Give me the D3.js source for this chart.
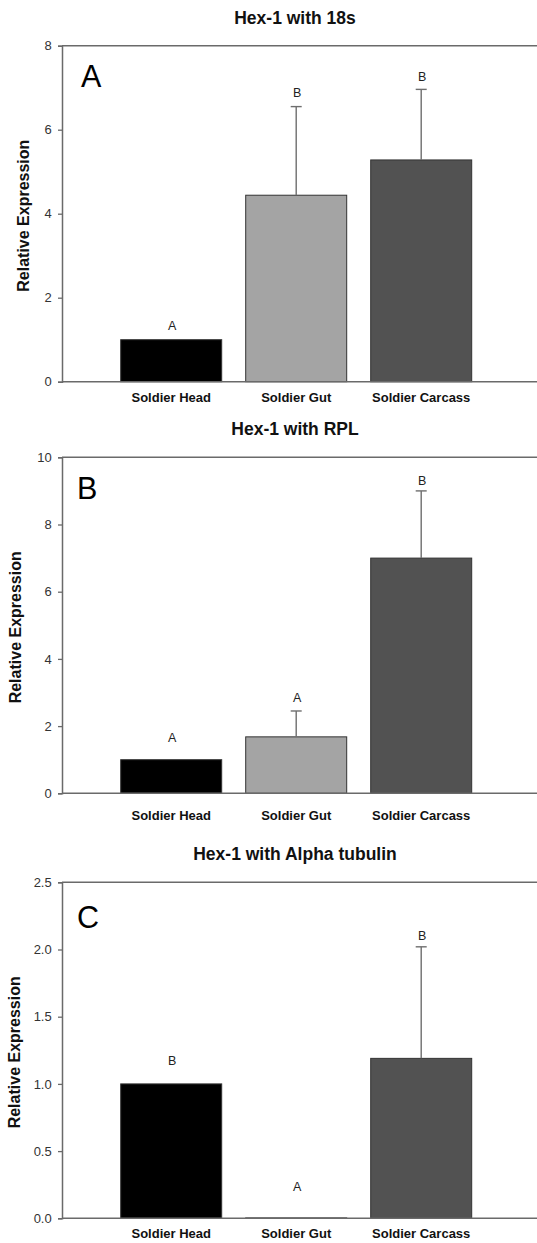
<!DOCTYPE html>
<html>
<head>
<meta charset="utf-8">
<script src="https://cdn.jsdelivr.net/npm/d3@7"></script>
<style>
	body { margin: 0; background: #fff; }
	svg { display: block; font-family: "Liberation Sans", Arial, sans-serif; }
</style>
</head>
<body>
<svg id="chart"></svg>
<script>
const categories	= ['Soldier Head', 'Soldier Gut', 'Soldier Carcass'];
const panelTitles	= ['Hex-1 with 18s', 'Hex-1 with RPL', 'Hex-1 with Alpha tubulin'];
const panelLetters	= ['A', 'B', 'C'];

// means, standard errors, significance letters and where the letters sit (in data units)
const means18s		= [1.0, 4.44, 5.28];
const errors18s		= [0, 2.11, 1.68];
const sig18s		= ['A', 'B', 'B'];
const sigPos18s		= [1.23, 6.77, 7.15];

const meansRPL		= [1.0, 1.68, 7.0];
const errorsRPL		= [0, 0.77, 2.0];
const sigRPL		= ['A', 'A', 'B'];
const sigPosRPL		= [1.52, 2.73, 9.18];

const meansTub		= [1.0, 0.003, 1.19];
const errorsTub		= [0, 0, 0.83];
const sigTub		= ['B', 'A', 'B'];
const sigPosTub		= [1.14, 0.20, 2.07];

const yMaxes		= [8, 10, 2.5];
const yTicks		= [[0, 2, 4, 6, 8], [0, 2, 4, 6, 8, 10], [0, 0.5, 1.0, 1.5, 2.0, 2.5]];
const tickFormats	= ['d', 'd', '.1f'];

const barColors		= ['#000000', '#a4a4a4', '#525252'];

let canvasWidth		= 537;
let canvasHeight	= 1243;

// layout of the three stacked panels
let plotLeft		= 62;
let plotRight		= 540;
let plotHeight		= 336;
let panelTops		= [45.7, 457.3, 882.3];
let catLabelOffset	= [20.6, 26.7, 20.0];
let yTitleX			= [29, 21, 19.5];
let letterBox		= [{ x: 81, y: 87 }, { x: 77, y: 499 }, { x: 77, y: 928 }];

let panels = [
	{ means: means18s, errors: errors18s, sig: sig18s, sigPos: sigPos18s },
	{ means: meansRPL, errors: errorsRPL, sig: sigRPL, sigPos: sigPosRPL },
	{ means: meansTub, errors: errorsTub, sig: sigTub, sigPos: sigPosTub }
];

let svg = d3.select('#chart')
	.attr('width', canvasWidth)
	.attr('height', canvasHeight);

let x = d3.scaleBand()
	.domain(categories)
	.range([108.7, 483.7])
	.paddingInner(0.192)
	.paddingOuter(0.096);

panels.forEach((p, i) => {
	let top		= panelTops[i];
	let bottom	= top + plotHeight;
	let y		= d3.scaleLinear().domain([0, yMaxes[i]]).range([bottom, top]);
	let g		= svg.append('g').attr('class', 'panel');

	let rows = categories.map((c, j) => ({ cat: c, mean: p.means[j], err: p.errors[j], sig: p.sig[j], sigPos: p.sigPos[j], color: barColors[j] }));

	// title
	g.append('text')
		.attr('x', 295)
		.attr('y', top - 22)
		.attr('text-anchor', 'middle')
		.attr('font-size', 17.5)
		.attr('font-weight', 'bold')
		.attr('fill', '#111')
		.text(panelTitles[i]);

	// bars
	g.append('g').selectAll('rect').data(rows).enter()
		.append('rect')
			.attr('x', (o) => x(o.cat))
			.attr('y', (o) => y(o.mean))
			.attr('width', x.bandwidth())
			.attr('height', (o) => bottom - y(o.mean))
			.attr('fill', (o) => o.color)
			.attr('stroke', '#333')
			.attr('stroke-width', 1);

	// error bars (upper only)
	let errRows = rows.filter((o) => o.err > 0);
	let eb = g.append('g').attr('stroke', '#6e6e6e').attr('stroke-width', 1.4);
	eb.selectAll('line.v').data(errRows).enter()
		.append('line')
			.attr('class', 'v')
			.attr('x1', (o) => x(o.cat) + x.bandwidth() / 2)
			.attr('x2', (o) => x(o.cat) + x.bandwidth() / 2)
			.attr('y1', (o) => y(o.mean))
			.attr('y2', (o) => y(o.mean + o.err));
	eb.selectAll('line.cap').data(errRows).enter()
		.append('line')
			.attr('class', 'cap')
			.attr('x1', (o) => x(o.cat) + x.bandwidth() / 2 - 5.5)
			.attr('x2', (o) => x(o.cat) + x.bandwidth() / 2 + 5.5)
			.attr('y1', (o) => y(o.mean + o.err))
			.attr('y2', (o) => y(o.mean + o.err));

	// significance letters
	g.append('g').selectAll('text').data(rows).enter()
		.append('text')
			.attr('x', (o) => x(o.cat) + x.bandwidth() / 2 + 1)
			.attr('y', (o) => y(o.sigPos))
			.attr('text-anchor', 'middle')
			.attr('font-size', 12.5)
			.attr('fill', '#222')
			.text((o) => o.sig);

	// frame: top and bottom lines run off the right edge
	let frame = g.append('g').attr('stroke', '#6a6a6a').attr('stroke-width', 1.5);
	frame.append('line').attr('x1', plotLeft).attr('x2', plotRight).attr('y1', top).attr('y2', top);
	frame.append('line').attr('x1', plotLeft).attr('x2', plotRight).attr('y1', bottom).attr('y2', bottom);

	// y axis
	let yAxis = g.append('g')
		.attr('transform', 'translate(' + plotLeft + ',0)')
		.call(d3.axisLeft(y).tickValues(yTicks[i]).tickFormat(d3.format(tickFormats[i])).tickSize(4).tickPadding(6.3));
	yAxis.select('.domain').attr('stroke', '#6a6a6a').attr('stroke-width', 1.5);
	yAxis.selectAll('.tick line').attr('stroke', '#6a6a6a').attr('stroke-width', 1.3);
	yAxis.selectAll('.tick text').attr('font-size', 13).attr('fill', '#333').attr('font-family', null);

	// category labels
	let xAxis = g.append('g')
		.attr('transform', 'translate(0,' + bottom + ')')
		.call(d3.axisBottom(x).tickSize(0).tickPadding(catLabelOffset[i] - 0.71 * 13));
	xAxis.select('.domain').remove();
	xAxis.selectAll('.tick text').attr('font-size', 13).attr('font-weight', 'bold').attr('fill', '#111').attr('font-family', null);

	// y axis title
	g.append('text')
		.attr('transform', 'translate(' + yTitleX[i] + ',' + ((top + bottom) / 2 + 2) + ') rotate(-90)')
		.attr('text-anchor', 'middle')
		.attr('font-size', 16)
		.attr('font-weight', 'bold')
		.attr('fill', '#111')
		.text('Relative Expression');

	// panel letter
	g.append('text')
		.attr('x', letterBox[i].x)
		.attr('y', letterBox[i].y)
		.attr('font-size', 30.5)
		.attr('fill', '#000')
		.text(panelLetters[i]);
});
</script>
</body>
</html>
